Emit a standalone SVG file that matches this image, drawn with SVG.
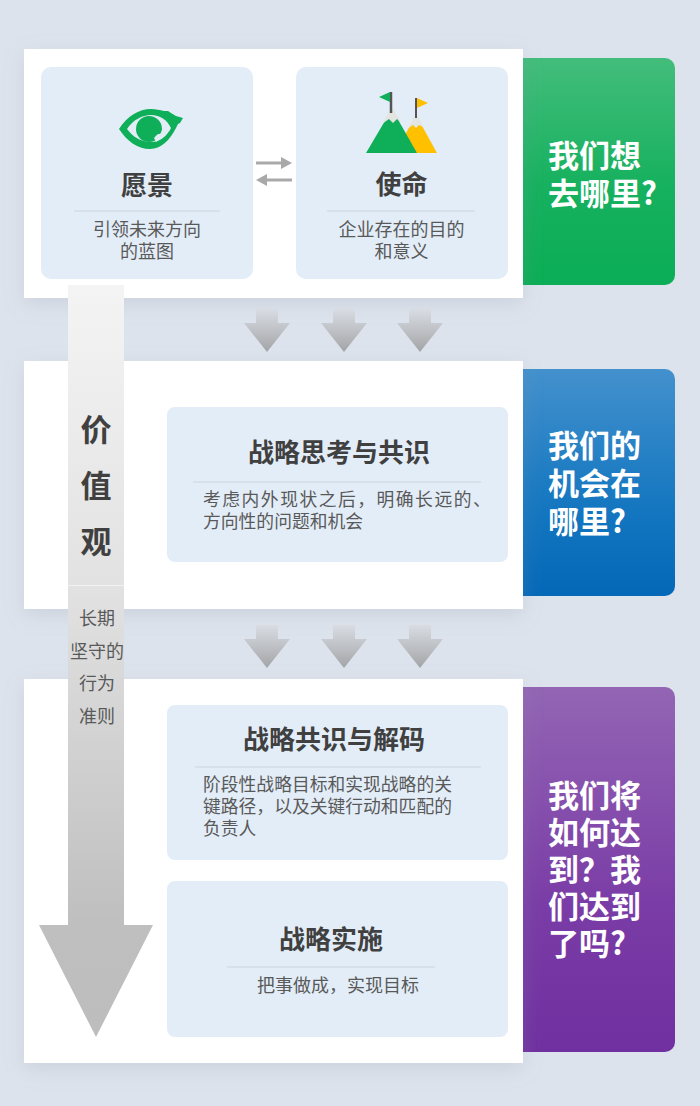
<svg xmlns="http://www.w3.org/2000/svg" width="700" height="1106" viewBox="0 0 700 1106">
<style>
text{font-family:"Noto Sans CJK SC","Noto Sans",sans-serif;text-anchor:middle}
.t{font-size:26px;font-weight:700;fill:#404040}
.b{font-size:18px;fill:#595959}
.l{font-size:17.800px;fill:#595959;text-anchor:start}
.q{font-size:31px;font-weight:700;fill:#fff;text-anchor:start}
.v{font-size:31px;font-weight:700;fill:#404040}
.card{fill:#e3edf8}
.panel{fill:#fff}
.rule{stroke:#cdd3da;stroke-width:1;fill:none}
</style>
<defs>
<filter id="sh" x="-10%" y="-10%" width="120%" height="130%"><feDropShadow dx="0" dy="6" stdDeviation="10" flood-color="#8c96a8" flood-opacity=".22"/></filter>
<linearGradient id="gG" x1="0" y1="0" x2="0" y2="1"><stop offset="0" stop-color="#43bd7b"/><stop offset=".55" stop-color="#17b15f"/><stop offset="1" stop-color="#0bad56"/></linearGradient>
<linearGradient id="gB" x1="0" y1="0" x2="0" y2="1"><stop offset="0" stop-color="#4391cd"/><stop offset=".6" stop-color="#1577c0"/><stop offset="1" stop-color="#0468b8"/></linearGradient>
<linearGradient id="gP" x1="0" y1="0" x2="0" y2="1"><stop offset="0" stop-color="#9365b4"/><stop offset=".6" stop-color="#7a3ca6"/><stop offset="1" stop-color="#7030a0"/></linearGradient>
<linearGradient id="gV" gradientUnits="userSpaceOnUse" x1="0" y1="285" x2="0" y2="1037"><stop offset="0" stop-color="#f4f4f4"/><stop offset=".4" stop-color="#e2e2e2"/><stop offset=".85" stop-color="#bfbfbf"/><stop offset="1" stop-color="#bdbdbd"/></linearGradient>
<linearGradient id="gA" x1="0" y1="0" x2="0" y2="1"><stop offset="0" stop-color="#d9dde3"/><stop offset="1" stop-color="#a3a4a7"/></linearGradient>
<path id="down" d="M-11 0H11V14H23L0 43L-23 14H-11Z" fill="url(#gA)"/>
</defs>
<rect width="700" height="1106" fill="#dde3ec"/>
<g id="side-1"><rect x="500" y="58" width="175" height="227" rx="10" fill="url(#gG)"/><text class="q" x="548" y="167">我们想</text><text class="q" x="548" y="205">去哪里?</text></g>
<g id="side-2"><rect x="500" y="369" width="175" height="227" rx="10" fill="url(#gB)"/><text class="q" x="548" y="457">我们的</text><text class="q" x="548" y="495">机会在</text><text class="q" x="548" y="533">哪里?</text></g>
<g id="side-3"><rect x="500" y="687" width="175" height="365" rx="10" fill="url(#gP)"/><text class="q" x="548" y="807">我们将</text><text class="q" x="548" y="844">如何达</text><text class="q" x="548" y="881">到&#xFF1F;我</text><text class="q" x="548" y="918">们达到</text><text class="q" x="548" y="955">了吗?</text></g>
<rect class="panel" id="panel-1" x="24" y="49" width="499" height="249" filter="url(#sh)"/>
<rect class="panel" id="panel-2" x="24" y="361" width="499" height="248" filter="url(#sh)"/>
<rect class="panel" id="panel-3" x="24" y="679" width="499" height="384" filter="url(#sh)"/>
<g id="vision">
<rect class="card" x="41" y="67" width="212" height="212" rx="10"/>
<path d="M119 129C127 116 139 109 151 109C156 109 160 110 164 111L168 111L171 113L176 116L183 118L180 123L178 124L176 128C170 140 161 149 150 149C137 149 127 141 119 129Z" fill="#0fae58"/>
<path d="M127 129C133 120 142 115 151 115C160 115 167 120 171 128C167 136 160 142 151 142C141 142 133 137 127 129Z" fill="#e3edf8"/>
<circle cx="149" cy="129" r="13" fill="#0fae58"/>
<path d="M162 130C163 133 165 134 162 138L156 142L154 138C156 136 157 134 159 134C161 134 161 132 162 130Z" fill="#e3edf8"/>
<text class="t" x="147" y="195">愿景</text>
<path class="rule" d="M74 211H220"/>
<text class="b" x="147" y="236">引领未来方向</text><text class="b" x="147" y="258">的蓝图</text>
</g>
<g id="mission">
<rect class="card" x="296" y="67" width="212" height="212" rx="10"/>
<path d="M416 115L437 153H395Z" fill="#ffc000"/>
<path d="M416 113L423 127L419 125L416 128L413 125L409 128Z" fill="#e2e5e2"/>
<path d="M392 109L417 153H366Z" fill="#0fae58"/>
<path d="M392 107L401 122L397 119L393 123L389 119L382 124Z" fill="#e2e5e2"/>
<path d="M391 92V113" stroke="#555" stroke-width="2.500"/><path d="M416 98V118" stroke="#555" stroke-width="2"/>
<path d="M390 92V102L379 97Z" fill="#0fae58"/><path d="M417 98V108L428 103Z" fill="#ffc000"/>
<text class="t" x="401.500" y="194">使命</text>
<path class="rule" d="M327 211H475"/>
<text class="b" x="401.500" y="236">企业存在的目的</text><text class="b" x="401.500" y="258">和意义</text>
</g>
<g id="connectors">
<path d="M256 161.500H281V157L292 163L281 169V164.500H256Z" fill="#a9a9a9"/>
<path d="M292 178.500H267V174L256 180L267 186V181.500H292Z" fill="#a9a9a9"/>
<use href="#down" x="267" y="309"/><use href="#down" x="344" y="309"/><use href="#down" x="420" y="309"/>
<use href="#down" x="267" y="625"/><use href="#down" x="344" y="625"/><use href="#down" x="420" y="625"/>
</g>
<g id="values">
<path d="M68 285H124V925H153L96 1037L39 925H68Z" fill="url(#gV)"/>
<path d="M68 585.500H124" stroke="#f2f2f2" stroke-width="1"/>
<text class="v" x="96" y="441">价</text><text class="v" x="96" y="497">值</text><text class="v" x="96" y="553">观</text>
<text class="b" x="97" y="625">长期</text><text class="b" x="97" y="658">坚守的</text><text class="b" x="97" y="690">行为</text><text class="b" x="97" y="723">准则</text>
</g>
<g id="think">
<rect class="card" x="167" y="407" width="341" height="155" rx="8"/>
<text class="t" x="339" y="462">战略思考与共识</text>
<path class="rule" d="M193 482H481"/>
<text class="l" x="203" y="506" letter-spacing="1.500">考虑内外现状之后&#xFF0C;明确长远的、</text><text class="l" x="203" y="528">方向性的问题和机会</text>
</g>
<g id="decode">
<rect class="card" x="167" y="705" width="341" height="155" rx="8"/>
<text class="t" x="334" y="749">战略共识与解码</text>
<path class="rule" d="M195 767H481"/>
<text class="l" x="203" y="791">阶段性战略目标和实现战略的关</text><text class="l" x="203" y="813">键路径&#xFF0C;以及关键行动和匹配的</text><text class="l" x="203" y="835">负责人</text>
</g>
<g id="execute">
<rect class="card" x="167" y="881" width="341" height="156" rx="8"/>
<text class="t" x="331" y="949">战略实施</text>
<path class="rule" d="M227 967H435"/>
<text class="b" x="338" y="992">把事做成&#xFF0C;实现目标</text>
</g>
</svg>
